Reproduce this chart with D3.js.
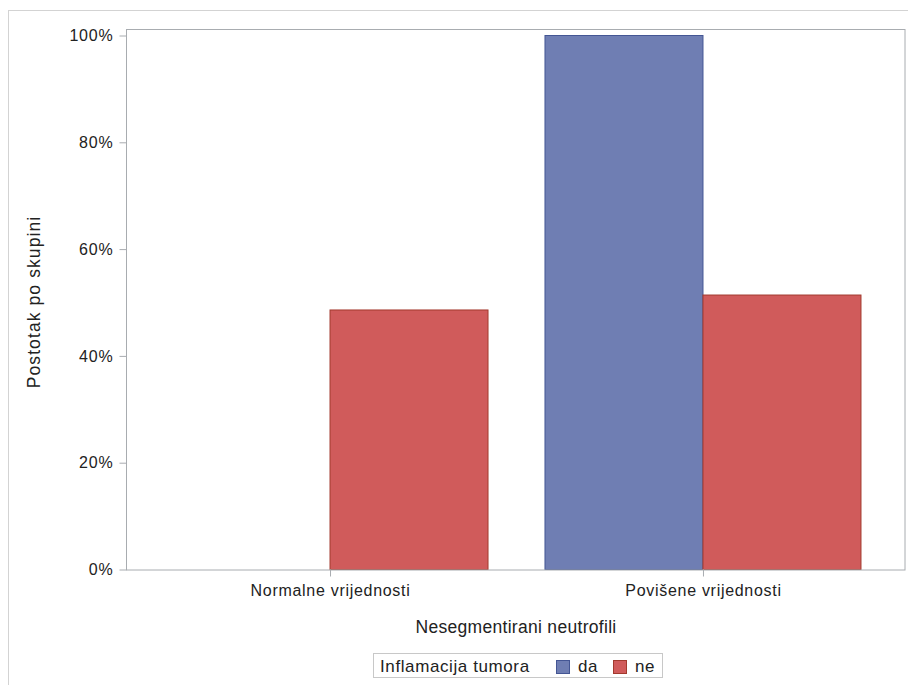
<!DOCTYPE html>
<html><head><meta charset="utf-8">
<script src="https://cdn.jsdelivr.net/npm/d3@7"></script>
<style>body{margin:0;background:#fff}svg{display:block}text{font-family:"Liberation Sans",Arial,sans-serif;fill:#222}</style>
</head><body>
<script>
const categories = ["Normalne vrijednosti", "Povišene vrijednosti"];
const groups = ["da", "ne"];
const valuesDa = [0, 100];
const valuesNe = [48.6, 51.4];
const yTicks = [0, 20, 40, 60, 80, 100];
const fills = ["#6F7EB3", "#D05B5B"];
const strokes = ["#445694", "#A23A2E"];

const W = 908, H = 685;
const svg = d3.select("body").append("svg").attr("width", W).attr("height", H);
svg.append("rect").attr("x", 8.5).attr("y", 10.5).attr("width", 910).attr("height", 690)
  .attr("fill", "none").attr("stroke", "#d3d3d3");

const L = 127, R = 905, T = 29, B = 569.5;
const x = d3.scalePoint().domain(categories).range([L, R]).padding(0.543);
const y = d3.scaleLinear().domain([0, 100]).range([B, 35.5]);
const bw = 158;

const data = [];
categories.forEach((c, i) => {
  [valuesDa[i], valuesNe[i]].forEach((v, j) => data.push({c, g: j, v}));
});

svg.selectAll("rect.bar").data(data.filter(d => d.v > 0)).join("rect")
  .attr("class", "bar")
  .attr("x", d => x(d.c) - bw + d.g * bw + 0.5)
  .attr("y", d => y(d.v))
  .attr("width", bw)
  .attr("height", d => B - y(d.v))
  .attr("fill", d => fills[d.g]).attr("stroke", d => strokes[d.g]).attr("stroke-width", 1);

// frame
svg.append("rect").attr("x", L - 0.5).attr("y", T + 0.5).attr("width", R - L + 0.5).attr("height", B - T)
  .attr("fill", "none").attr("stroke", "#a8acb0");

const ya = svg.append("g").attr("transform", `translate(${L - 0.5},0)`)
  .call(d3.axisLeft(y).tickValues(yTicks).tickFormat(d => d + "%").tickSize(7).tickPadding(6));
ya.select(".domain").remove();
ya.selectAll("line").attr("stroke", "#a8acb0");
ya.selectAll("text").attr("font-size", 16).attr("letter-spacing", 0.8).attr("fill", "#222");

const xa = svg.append("g").attr("transform", `translate(0.5,${B})`)
  .call(d3.axisBottom(x).tickSize(7).tickPadding(8));
xa.select(".domain").remove();
xa.selectAll("line").attr("stroke", "#a8acb0");
xa.selectAll("text").attr("font-size", 16).attr("letter-spacing", 0.7).attr("fill", "#222");

svg.append("text").attr("x", 516).attr("y", 633).attr("text-anchor", "middle").attr("font-size", 17.5)
  .attr("letter-spacing", 0.3).text("Nesegmentirani neutrofili");
svg.append("text").attr("transform", "translate(40,302) rotate(-90)").attr("text-anchor", "middle")
  .attr("font-size", 17.5).attr("letter-spacing", 1.1).text("Postotak po skupini");

// legend
const lg = svg.append("g");
lg.append("rect").attr("x", 373.5).attr("y", 653.5).attr("width", 289).attr("height", 24)
  .attr("fill", "none").attr("stroke", "#c8c8c8");
lg.append("text").attr("x", 380).attr("y", 672).attr("font-size", 17).attr("letter-spacing", 0.6)
  .text("Inflamacija tumora");
const lx = [556, 613];
groups.forEach((g, j) => {
  lg.append("rect").attr("x", lx[j] + 0.5).attr("y", 660.5).attr("width", 13).attr("height", 13)
    .attr("fill", fills[j]).attr("stroke", strokes[j]);
  lg.append("text").attr("x", lx[j] + 22).attr("y", 672).attr("font-size", 17).attr("letter-spacing", 0.6).text(g);
});
</script>
</body></html>
